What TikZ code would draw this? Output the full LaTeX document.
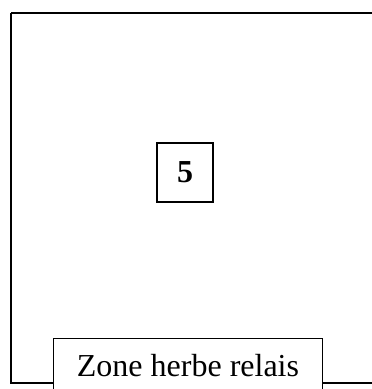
\documentclass[tikz,border=0pt]{standalone}
\usepackage{fontspec}
\setmainfont{Liberation Serif}
\begin{document}
\begin{tikzpicture}[x=1pt,y=1pt,
    box/.style={draw,line width=1.3pt,inner sep=0pt,fill=white},
    label/.style={font=\fontsize{32}{38}\selectfont}]
            \useasboundingbox (0,0) rectangle (372,389);
            \clip (0,0) rectangle (372,389);
            \fill[white] (0,0) rectangle (372,389);
            % frame of the field, open to the right
            \draw[line width=2pt] (380,376) -- (11,376);
            \draw[line width=1.3pt] (11,376) -- (11,6) -- (380,6);
            \node[box,label,line width=1.8pt,minimum width=56,minimum height=59,text height=21pt,text depth=0pt] (five) at (185,216.5) {\textbf{5}};
            \node[box,label,minimum width=269,minimum height=54,text height=21pt,text depth=0pt,anchor=north] (zone) at (188,51) {Zone herbe relais};
        \end{tikzpicture}
\end{document}
